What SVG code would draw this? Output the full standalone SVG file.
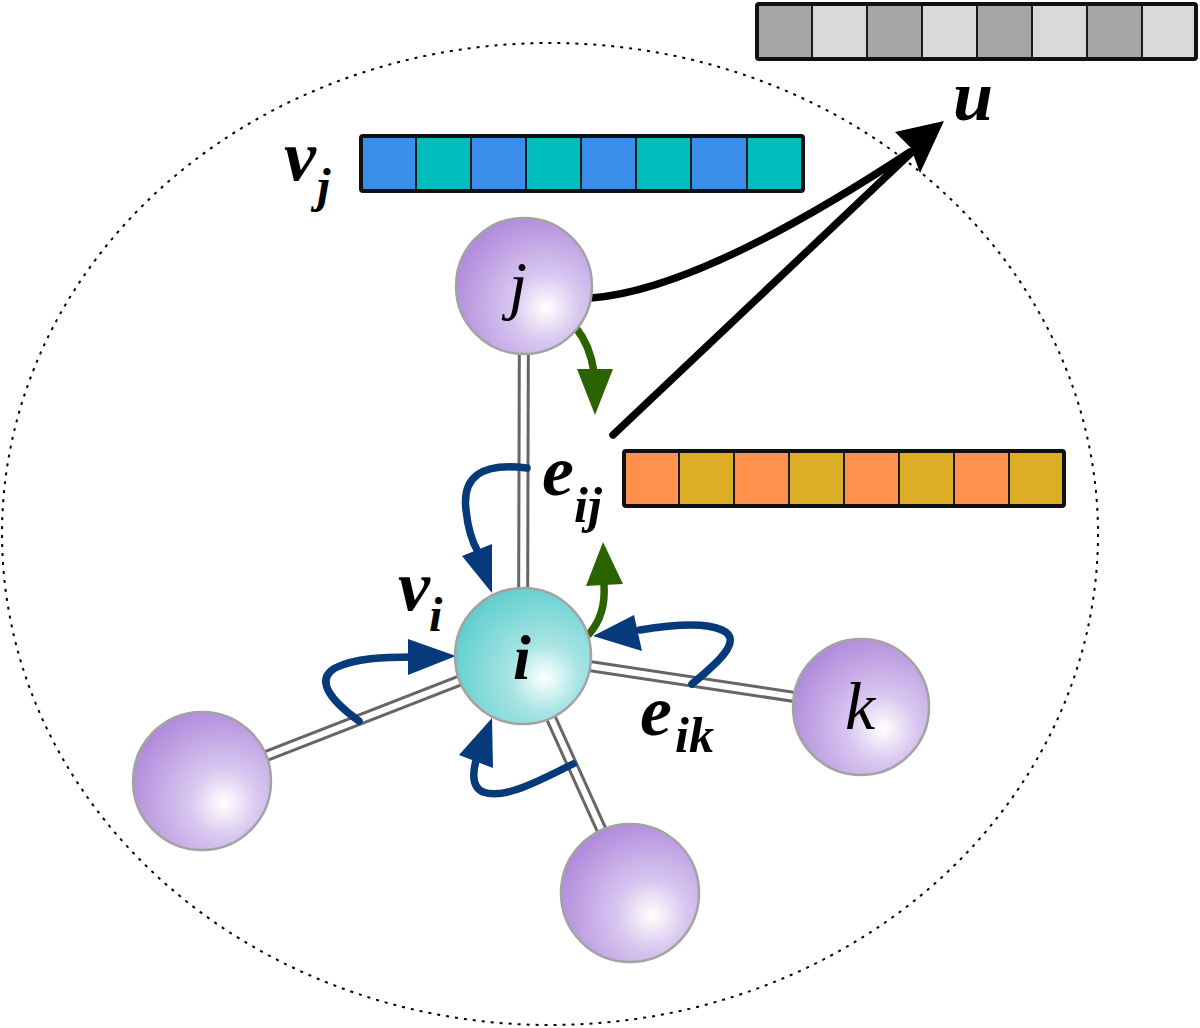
<svg xmlns="http://www.w3.org/2000/svg" width="1200" height="1028" viewBox="0 0 1200 1028">
<style>
.lbl{font-family:"Liberation Serif","Times New Roman",serif;font-style:italic;font-weight:bold;fill:#000}
.nl{font-family:"Liberation Serif","Times New Roman",serif;font-style:italic;fill:#000;text-anchor:middle}
.cell{stroke:#1a1a1a;stroke-width:2}
.frame{fill:none;stroke:#111;stroke-width:4}
.edgeo{stroke:#666;stroke-width:12;fill:none}
.edgei{stroke:#fff;stroke-width:6;fill:none}
.blue{fill:none;stroke:#073a7a;stroke-width:7.5;stroke-linecap:round}
.green{fill:none;stroke:#2a6300;stroke-width:7.5;stroke-linecap:round}
.black{fill:none;stroke:#000;stroke-width:7.5;stroke-linecap:round}
.node{stroke:#a3a3a3;stroke-width:2.5}
</style>
<defs>
<radialGradient id="gp" cx="0.66" cy="0.66" r="0.85" fx="0.66" fy="0.66">
<stop offset="0" stop-color="#ffffff"/>
<stop offset="0.3" stop-color="#d8c6ef"/>
<stop offset="1" stop-color="#a478d6"/>
</radialGradient>
<radialGradient id="gt" cx="0.66" cy="0.66" r="0.85" fx="0.66" fy="0.66">
<stop offset="0" stop-color="#ffffff"/>
<stop offset="0.3" stop-color="#a8e4e4"/>
<stop offset="1" stop-color="#4ac8c8"/>
</radialGradient>
</defs>
<rect width="1200" height="1028" fill="#fff"/>
<ellipse cx="550" cy="534" rx="548" ry="491" fill="none" stroke="#000" stroke-width="2" stroke-dasharray="3,6"/>

<g id="bar-u">
<rect class="cell" x="757" y="4" width="55" height="55" fill="#a6a6a6"/>
<rect class="cell" x="812" y="4" width="55" height="55" fill="#d9d9d9"/>
<rect class="cell" x="867" y="4" width="55" height="55" fill="#a6a6a6"/>
<rect class="cell" x="922" y="4" width="55" height="55" fill="#d9d9d9"/>
<rect class="cell" x="977" y="4" width="55" height="55" fill="#a6a6a6"/>
<rect class="cell" x="1032" y="4" width="55" height="55" fill="#d9d9d9"/>
<rect class="cell" x="1087" y="4" width="55" height="55" fill="#a6a6a6"/>
<rect class="cell" x="1142" y="4" width="54" height="55" fill="#d9d9d9"/>
<rect class="frame" x="757" y="4" width="439" height="55" rx="2"/>
</g>
<g id="bar-vj">
<rect class="cell" x="361" y="136" width="55" height="55" fill="#3a8de8"/>
<rect class="cell" x="416" y="136" width="55" height="55" fill="#00bebe"/>
<rect class="cell" x="471" y="136" width="55" height="55" fill="#3a8de8"/>
<rect class="cell" x="526" y="136" width="55" height="55" fill="#00bebe"/>
<rect class="cell" x="581" y="136" width="55" height="55" fill="#3a8de8"/>
<rect class="cell" x="636" y="136" width="55" height="55" fill="#00bebe"/>
<rect class="cell" x="691" y="136" width="56" height="55" fill="#3a8de8"/>
<rect class="cell" x="747" y="136" width="56" height="55" fill="#00bebe"/>
<rect class="frame" x="361" y="136" width="442" height="55" rx="2"/>
</g>
<g id="bar-eij">
<rect class="cell" x="624" y="451" width="55" height="55" fill="#ff914d"/>
<rect class="cell" x="679" y="451" width="55" height="55" fill="#dbae26"/>
<rect class="cell" x="734" y="451" width="55" height="55" fill="#ff914d"/>
<rect class="cell" x="789" y="451" width="55" height="55" fill="#dbae26"/>
<rect class="cell" x="844" y="451" width="55" height="55" fill="#ff914d"/>
<rect class="cell" x="899" y="451" width="55" height="55" fill="#dbae26"/>
<rect class="cell" x="954" y="451" width="55" height="55" fill="#ff914d"/>
<rect class="cell" x="1009" y="451" width="55" height="55" fill="#dbae26"/>
<rect class="frame" x="624" y="451" width="440" height="55" rx="2"/>
</g>

<g id="connectors">
<g id="edges">
<line class="edgeo" x1="524" y1="286" x2="523" y2="656"/>
<line class="edgei" x1="524" y1="286" x2="523" y2="656"/>
<line class="edgeo" x1="523" y1="656" x2="861" y2="707"/>
<line class="edgei" x1="523" y1="656" x2="861" y2="707"/>
<line class="edgeo" x1="523" y1="656" x2="202" y2="781"/>
<line class="edgei" x1="523" y1="656" x2="202" y2="781"/>
<line class="edgeo" x1="523" y1="656" x2="630" y2="893"/>
<line class="edgei" x1="523" y1="656" x2="630" y2="893"/>
</g>
<path class="black" d="M591,298 Q700,290 910,152"/>
<path class="black" d="M613,435 L912,152"/>
<polygon points="944,121 895,132 911,148 920,173" fill="#000"/>
<path class="green" d="M576,328 Q590,345 594,372"/>
<polygon points="577,369 613,369 595,415" fill="#2a6300"/>
<path class="green" d="M589,634 Q606,615 604,585"/>
<polygon points="586,586 623,584 603,542" fill="#2a6300"/>
<path class="blue" d="M527,468 C480,462 462,478 466,510 C468,530 474,545 478,552"/>
<polygon points="492,593 462,556 492,544" fill="#073a7a"/>
<path class="blue" d="M359,721 C330,700 315,680 335,668 C355,658 385,657 412,657"/>
<polygon points="456,656 408,639 408,675" fill="#073a7a"/>
<path class="blue" d="M573,764 C540,780 505,800 483,792 C470,786 473,770 477,757"/>
<polygon points="492,718 459,755 493,768" fill="#073a7a"/>
<path class="blue" d="M692,684 C715,665 745,640 722,630 C705,622 670,625 640,630"/>
<polygon points="593,636 634,615 642,651" fill="#073a7a"/>
</g>

<g id="node-j"><circle class="node" cx="524" cy="286" r="68" fill="url(#gp)"/><text class="nl" x="518" y="307" font-size="66">j</text></g>
<g id="node-i"><circle class="node" cx="523" cy="656" r="68" fill="url(#gt)"/><text class="nl" x="522" y="679" font-size="64" font-weight="bold">i</text></g>
<g id="node-k"><circle class="node" cx="861" cy="707" r="68" fill="url(#gp)"/><text class="nl" x="860" y="729" font-size="68">k</text></g>
<g id="node-left"><circle class="node" cx="202" cy="781" r="69" fill="url(#gp)"/></g>
<g id="node-bottom"><circle class="node" cx="630" cy="893" r="69" fill="url(#gp)"/></g>

<g id="labels">
<text class="lbl" x="284" y="180" font-size="72">v</text><text class="lbl" x="317" y="202" font-size="48">j</text>
<text class="lbl" x="953" y="120" font-size="72">u</text>
<text class="lbl" x="542" y="495" font-size="72">e</text><text class="lbl" x="574" y="522" font-size="50">ij</text>
<text class="lbl" x="398" y="610" font-size="72">v</text><text class="lbl" x="429" y="631" font-size="48">i</text>
<text class="lbl" x="640" y="735" font-size="72">e</text><text class="lbl" x="675" y="752" font-size="50">ik</text>
</g>
</svg>
